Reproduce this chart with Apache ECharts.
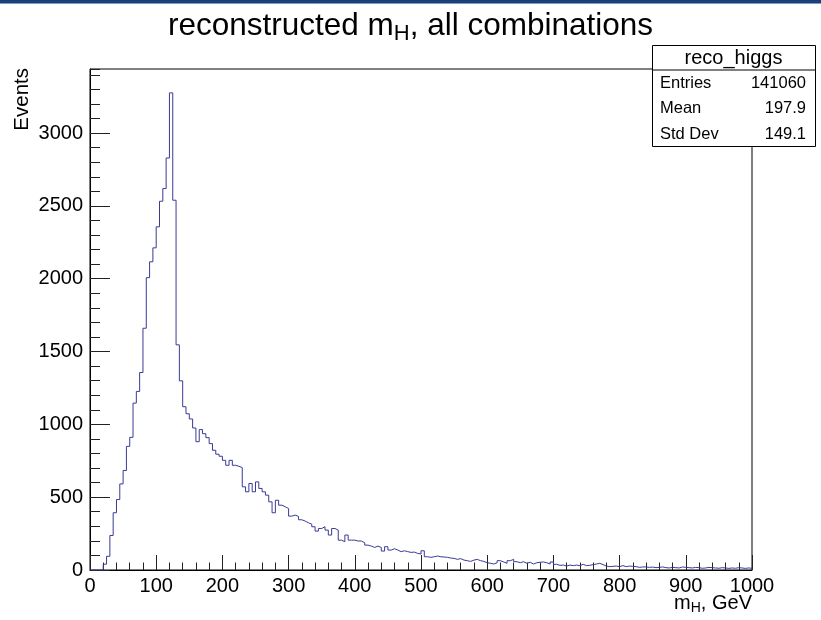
<!DOCTYPE html>
<html><head><meta charset="utf-8">
<script src="https://cdn.jsdelivr.net/npm/echarts@6/dist/echarts.min.js"></script>
<style>html,body{margin:0;padding:0;background:#fff}#c{width:821px;height:620px}</style>
</head><body><div id="c"></div>
<script>
// ---- data ----
const histName = 'reco_higgs';
const binLow = 0;      // GeV
const binWidth = 5;    // GeV
const counts = [
  0,0,0,0,40,94,237,393,484,591,
  683,849,911,1146,1226,1356,1660,2007,2116,2212,
  2356,2532,2619,2829,3276,2539,1546,1299,1121,1073,
  1037,975,881,964,936,909,868,822,795,781,
  753,719,753,719,712,703,571,537,594,537,
  605,560,537,514,468,393,479,445,434,422,
  370,377,368,345,336,324,315,297,267,285,
  297,274,240,285,274,205,194,240,205,205,
  199,199,187,171,164,155,164,155,130,160,
  137,146,137,126,132,126,121,123,114,110,
  132,91,87,91,96,91,89,87,82,80,
  73,78,68,64,59,68,73,64,59,50,
  46,41,50,64,55,46,64,73,57,50,
  57,46,53,41,50,53,55,50,41,55,
  39,32,34,27,34,30,34,30,39,30,
  32,37,41,46,37,27,23,25,27,23,
  30,23,27,25,23,18,21,21,18,20,
  16,18,21,16,14,18,16,14,21,18,
  16,14,18,16,12,14,18,16,14,12,
  16,14,11,14,12,16,14,11,14,12
];
const xRange = [0, 1000];
const xMajor = 100;
const yRange = [0, 3440];
const yMajor = 500;
const yMinor = 100;
const statsLabels = ['Entries', 'Mean', 'Std Dev'];
const statsValues = ['141060', '197.9', '149.1'];

// ---- build ----
const FONT = 'Liberation Sans';
const histData = counts.map((c, i) => [binLow + i * binWidth, c]);
histData.unshift([binLow, 0]);
histData.push([binLow + counts.length * binWidth, counts[counts.length - 1]]);
histData.push([binLow + counts.length * binWidth, 0]);

const chart = echarts.init(document.getElementById('c'), null, {renderer: 'canvas'});
const G = {left: 90, top: 69, right: 821 - 752, bottom: 620 - 570};
const statsBox = {x: 652, y: 45, w: 163, h: 101, head: 24.5};
const rowH = (statsBox.h - statsBox.head) / 3;

const graphics = [
  {type: 'rect', left: 0, top: 0, shape: {width: 821, height: 3}, style: {fill: '#1d3f78'}, z: 100},
  {type: 'rect', left: 0, top: 3, shape: {width: 821, height: 1}, style: {fill: '#7f9cc8'}, z: 100},
  // title
  {type: 'text', x: 410.5, y: 26, z: 100,
   style: {text: '{a|reconstructed m}{s|H}{a|, all combinations}', align: 'center', verticalAlign: 'middle',
     rich: {a: {fontSize: 31.5, fontFamily: FONT, fill: '#000'},
            s: {fontSize: 22, fontFamily: FONT, fill: '#000', padding: [15, 0, 0, 0]}}}},
  // y title
  {type: 'text', x: 22, y: 68, rotation: Math.PI / 2, z: 100,
   style: {text: 'Events', align: 'right', verticalAlign: 'middle', fontSize: 20.5, fontFamily: FONT, fill: '#000'}},
  // x title
  {type: 'text', x: 752, y: 603, z: 100,
   style: {text: '{a|m}{s|H}{a|, GeV}', align: 'right', verticalAlign: 'middle',
     rich: {a: {fontSize: 20, fontFamily: FONT, fill: '#000'},
            s: {fontSize: 14, fontFamily: FONT, fill: '#000', padding: [11, 0, 0, 0]}}}},
  // stats box
  {type: 'rect', z: 100, shape: {x: statsBox.x + 0.5, y: statsBox.y + 0.5, width: statsBox.w, height: statsBox.h},
   style: {fill: '#fff', stroke: '#000', lineWidth: 1}},
  {type: 'line', z: 101, shape: {x1: statsBox.x, y1: statsBox.y + statsBox.head + 0.5, x2: statsBox.x + statsBox.w, y2: statsBox.y + statsBox.head + 0.5},
   style: {stroke: '#000', lineWidth: 1}},
  {type: 'text', z: 101, x: statsBox.x + statsBox.w / 2, y: statsBox.y + statsBox.head / 2 + 1,
   style: {text: histName, align: 'center', verticalAlign: 'middle', fontSize: 20, fontFamily: FONT, fill: '#000'}}
];
statsLabels.forEach((lab, i) => {
  const cy = statsBox.y + statsBox.head + rowH * (i + 0.5) + 1;
  graphics.push({type: 'text', z: 101, x: statsBox.x + 8, y: cy,
    style: {text: lab, align: 'left', verticalAlign: 'middle', fontSize: 16.5, fontFamily: FONT, fill: '#000'}});
  graphics.push({type: 'text', z: 101, x: statsBox.x + statsBox.w - 9, y: cy,
    style: {text: statsValues[i], align: 'right', verticalAlign: 'middle', fontSize: 16.5, fontFamily: FONT, fill: '#000'}});
});

const plain = v => String(v);

chart.setOption({
  animation: false,
  backgroundColor: '#fff',
  grid: {left: G.left, top: G.top, right: G.right, bottom: G.bottom, show: true,
         borderColor: '#000', borderWidth: 1, backgroundColor: 'transparent'},
  xAxis: {
    type: 'value', min: xRange[0], max: xRange[1], interval: xMajor, position: 'bottom',
    axisLine: {show: true, onZero: false, lineStyle: {color: '#000', width: 1}},
    axisTick: {show: true, inside: true, length: 15, lineStyle: {color: '#222', width: 1}},
    minorTick: {show: true, splitNumber: 5, length: 7.5, lineStyle: {color: '#222', width: 1}},
    axisLabel: {fontSize: 20, fontFamily: FONT, color: '#000', margin: 6, formatter: plain},
    splitLine: {show: false}, minorSplitLine: {show: false}
  },
  yAxis: [{
    type: 'value', min: yRange[0], max: yRange[1], interval: yMajor, position: 'left',
    axisLine: {show: true, onZero: false, lineStyle: {color: '#000', width: 1}},
    axisTick: {show: true, inside: true, length: 20, lineStyle: {color: '#222', width: 1}},
    axisLabel: {fontSize: 20, fontFamily: FONT, color: '#000', margin: 7, showMaxLabel: false, formatter: plain},
    splitLine: {show: false}
  }, {
    type: 'value', min: yRange[0], max: yRange[1], interval: yMinor, position: 'left', offset: 0,
    axisLine: {show: false},
    axisTick: {show: true, inside: true, length: 10, lineStyle: {color: '#222', width: 1}},
    axisLabel: {show: false},
    splitLine: {show: false}
  }],
  series: [{
    type: 'line', xAxisIndex: 0, yAxisIndex: 0, step: 'end', data: histData,
    showSymbol: false, symbol: 'none', clip: true,
    lineStyle: {color: '#3a3a96', width: 1}
  }],
  graphic: graphics
});
</script>
</body></html>
